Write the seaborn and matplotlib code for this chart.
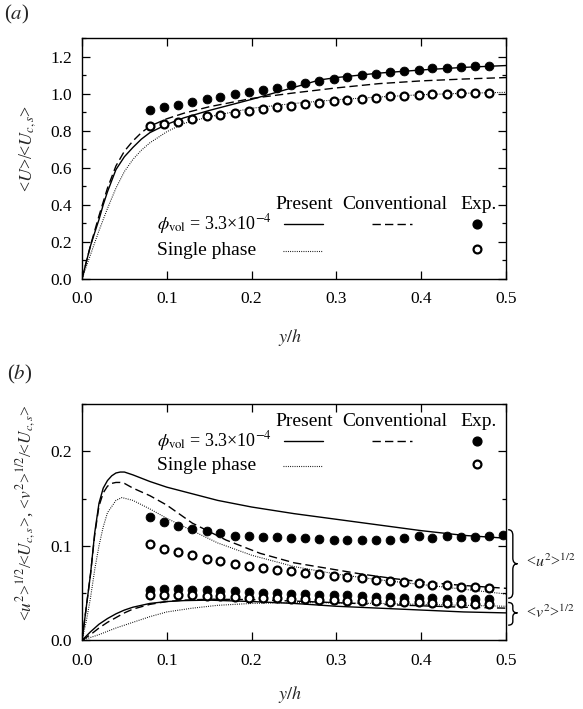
import matplotlib
matplotlib.use("Agg")
import matplotlib.pyplot as plt
from matplotlib.path import Path
from matplotlib.patches import PathPatch
from matplotlib.transforms import blended_transform_factory
from matplotlib.ticker import MultipleLocator
import pandas as pd
import seaborn as sns

# ---------------- (a) mean streamwise velocity ----------------
# measured points
y_exp = [0.080, 0.097, 0.113, 0.130, 0.147, 0.163, 0.180, 0.197, 0.213, 0.230,
         0.247, 0.263, 0.280, 0.297, 0.313, 0.330, 0.347, 0.363, 0.380, 0.397,
         0.413, 0.430, 0.447, 0.463, 0.480]
U_exp_particle = [0.911, 0.927, 0.941, 0.956, 0.972, 0.985, 0.999, 1.010, 1.021, 1.032,
                  1.046, 1.059, 1.068, 1.079, 1.091, 1.100, 1.109, 1.117, 1.124, 1.131,
                  1.137, 1.142, 1.146, 1.149, 1.153]
U_exp_single = [0.824, 0.837, 0.849, 0.864, 0.878, 0.887, 0.898, 0.909, 0.918, 0.927,
                0.936, 0.945, 0.952, 0.961, 0.969, 0.974, 0.979, 0.987, 0.990, 0.996,
                0.998, 1.001, 1.003, 1.005, 1.007]

# computed profiles
ya_present = [0, 0.005, 0.01, 0.015, 0.02, 0.025, 0.03, 0.04, 0.05, 0.06, 0.07, 0.08,
              0.1, 0.12, 0.15, 0.2, 0.25, 0.28, 0.3, 0.35, 0.4, 0.45, 0.5]
U_present = [0, 0.09, 0.178, 0.25, 0.32, 0.40, 0.47, 0.59, 0.66, 0.71, 0.755, 0.79,
             0.835, 0.87, 0.91, 0.97, 1.035, 1.075, 1.088, 1.112, 1.129, 1.143, 1.153]
ya_conv = [0, 0.005, 0.01, 0.02, 0.03, 0.04, 0.05, 0.06, 0.07, 0.08, 0.1, 0.12,
           0.15, 0.2, 0.25, 0.3, 0.35, 0.4, 0.45, 0.5]
U_conv = [0, 0.09, 0.18, 0.34, 0.49, 0.61, 0.69, 0.745, 0.79, 0.825, 0.865, 0.895,
          0.93, 0.975, 1.005, 1.032, 1.055, 1.07, 1.08, 1.088]
ya_single = [0, 0.005, 0.01, 0.02, 0.03, 0.04, 0.05, 0.06, 0.07, 0.08, 0.1, 0.12,
             0.15, 0.2, 0.25, 0.3, 0.35, 0.4, 0.45, 0.5]
U_single = [0, 0.065, 0.13, 0.26, 0.38, 0.49, 0.58, 0.645, 0.695, 0.735, 0.795, 0.84,
            0.876, 0.922, 0.948, 0.968, 0.983, 0.995, 1.003, 1.008]

# ---------------- (b) turbulence intensities ----------------
y_exp_u = [0.080, 0.097, 0.113, 0.130, 0.147, 0.163, 0.180, 0.197, 0.213, 0.230,
           0.247, 0.263, 0.280, 0.297, 0.313, 0.330, 0.347, 0.363, 0.380, 0.397,
           0.413, 0.430, 0.447, 0.463, 0.480, 0.497]
u_exp_particle = [0.1301, 0.1252, 0.1210, 0.1182, 0.1161, 0.1133, 0.1108, 0.1101, 0.1094,
                  0.1094, 0.1087, 0.1080, 0.1073, 0.1063, 0.1056, 0.1063, 0.1063, 0.1059,
                  0.1080, 0.1101, 0.1087, 0.1105, 0.1094, 0.1094, 0.1101, 0.1115]
u_exp_single = [0.1021, 0.0968, 0.0929, 0.0901, 0.0863, 0.0838, 0.0810, 0.0786, 0.0768,
                0.0747, 0.0729, 0.0715, 0.0701, 0.0684, 0.0670, 0.0659, 0.0642, 0.0631,
                0.0617, 0.0607, 0.0589, 0.0582, 0.0568, 0.0561, 0.0551]
v_exp_particle = [0.0536, 0.0547, 0.0540, 0.0536, 0.0530, 0.0523, 0.0519, 0.0512, 0.0505,
                  0.0505, 0.0495, 0.0491, 0.0484, 0.0477, 0.0477, 0.0466, 0.0459, 0.0459,
                  0.0452, 0.0452, 0.0449, 0.0442, 0.0442, 0.0442, 0.0438]
v_exp_single = [0.0477, 0.0484, 0.0477, 0.0477, 0.0470, 0.0466, 0.0459, 0.0452, 0.0452,
                0.0445, 0.0438, 0.0435, 0.0431, 0.0424, 0.0421, 0.0417, 0.0414, 0.0407,
                0.0403, 0.0400, 0.0396, 0.0396, 0.0393, 0.0389, 0.0386]

yb_u_present = [0, 0.005, 0.01, 0.015, 0.02, 0.025, 0.03, 0.035, 0.04, 0.045, 0.05, 0.06,
                0.08, 0.1, 0.13, 0.16, 0.2, 0.25, 0.3, 0.35, 0.4, 0.45, 0.5]
u_present = [0, 0.035, 0.07, 0.114, 0.145, 0.161, 0.169, 0.174, 0.177, 0.178, 0.178, 0.175,
             0.168, 0.162, 0.155, 0.148, 0.141, 0.134, 0.128, 0.122, 0.116, 0.111, 0.108]
yb_u_conv = [0, 0.005, 0.01, 0.015, 0.02, 0.025, 0.03, 0.035, 0.04, 0.045, 0.05, 0.06,
             0.08, 0.1, 0.13, 0.17, 0.21, 0.25, 0.29, 0.33, 0.37, 0.41, 0.45, 0.5]
u_conv = [0, 0.035, 0.07, 0.112, 0.142, 0.156, 0.163, 0.166, 0.167, 0.167, 0.166, 0.161,
          0.153, 0.143, 0.124, 0.106, 0.092, 0.082, 0.076, 0.070, 0.065, 0.061, 0.058, 0.055]
yb_u_single = [0, 0.005, 0.01, 0.015, 0.02, 0.025, 0.03, 0.04, 0.047, 0.06, 0.08, 0.1,
               0.13, 0.16, 0.2, 0.25, 0.3, 0.35, 0.4, 0.45, 0.5]
u_single = [0, 0.02, 0.045, 0.075, 0.10, 0.12, 0.135, 0.148, 0.151, 0.148, 0.139, 0.129,
            0.116, 0.103, 0.09, 0.078, 0.07, 0.064, 0.059, 0.054, 0.049]

yb_v_present = [0, 0.01, 0.02, 0.03, 0.04, 0.05, 0.06, 0.08, 0.1, 0.12, 0.15, 0.2, 0.25,
                0.3, 0.35, 0.4, 0.45, 0.5]
v_present = [0, 0.009, 0.017, 0.023, 0.028, 0.032, 0.035, 0.039, 0.041, 0.042, 0.0425,
             0.041, 0.039, 0.036, 0.034, 0.032, 0.030, 0.029]
yb_v_conv = [0, 0.01, 0.02, 0.03, 0.04, 0.05, 0.06, 0.08, 0.1, 0.12, 0.15, 0.2, 0.25,
             0.3, 0.35, 0.4, 0.45, 0.5]
v_conv = [0, 0.006, 0.013, 0.019, 0.024, 0.029, 0.033, 0.038, 0.041, 0.0425, 0.0435,
          0.043, 0.0415, 0.0398, 0.038, 0.0365, 0.035, 0.034]
yb_v_single = [0, 0.02, 0.04, 0.06, 0.08, 0.1, 0.13, 0.16, 0.2, 0.25, 0.3, 0.35, 0.4,
               0.45, 0.5]
v_single = [0, 0.006, 0.013, 0.019, 0.025, 0.030, 0.034, 0.037, 0.039, 0.040, 0.0395,
            0.039, 0.038, 0.037, 0.036]

x_ticks = [0.0, 0.1, 0.2, 0.3, 0.4, 0.5]
x_ticklabels = ["0.0", "0.1", "0.2", "0.3", "0.4", "0.5"]
ya_ticks = [0.0, 0.2, 0.4, 0.6, 0.8, 1.0, 1.2]
ya_ticklabels = ["0.0", "0.2", "0.4", "0.6", "0.8", "1.0", "1.2"]
yb_ticks = [0.0, 0.1, 0.2]
yb_ticklabels = ["0.0", "0.1", "0.2"]

# ---------------- styling ----------------
sns.set_theme(style="ticks")
plt.rcParams["font.family"] = ["Liberation Serif", "DejaVu Serif"]
plt.rcParams["mathtext.fontset"] = "stix"
plt.rcParams["axes.linewidth"] = 1.0

SOLID = "-"
DASHED = (0, (6, 3))
DOTTED = (0, (0.8, 1.2))
LW = 1.0
MS = 40

fig = plt.figure(figsize=(5.83, 7.09), dpi=100)
ax_a = fig.add_axes([0.1407, 0.6069, 0.7273, 0.339])
ax_b = fig.add_axes([0.1407, 0.0969, 0.7273, 0.3333])


def curve(ax, x, y, ls, lw=LW):
    df = pd.DataFrame({"x": x, "y": y})
    sns.lineplot(data=df, x="x", y="y", ax=ax, color="black", linestyle=ls,
                 linewidth=lw, sort=False, estimator=None, legend=False)


def points(ax, x, y, filled):
    df = pd.DataFrame({"x": x, "y": y})
    if filled:
        sns.scatterplot(data=df, x="x", y="y", ax=ax, color="black", s=MS,
                        edgecolor="black", linewidth=0.6, legend=False, zorder=4)
    else:
        sns.scatterplot(data=df, x="x", y="y", ax=ax, facecolor="white", s=MS * 0.8,
                        edgecolor="black", linewidth=1.6, legend=False, zorder=5)


def style_axes(ax, ymax, yticks, yticklabels, yminor):
    ax.set_xlim(0, 0.5)
    ax.set_ylim(0, ymax)
    ax.set_xticks(x_ticks)
    ax.set_xticklabels(x_ticklabels)
    ax.set_yticks(yticks)
    ax.set_yticklabels(yticklabels)
    ax.yaxis.set_minor_locator(MultipleLocator(yminor))
    for s in ax.spines.values():
        s.set_visible(True)
        s.set_linewidth(1.0)
        s.set_color("black")
    ax.tick_params(which="both", direction="in", top=True, right=True,
                   colors="black", width=0.9)
    ax.tick_params(which="major", length=6, pad=7, labelsize=12.5)
    ax.tick_params(which="minor", length=3)
    ax.tick_params(axis="x", pad=9)


def key(ax, y_head, y_row1, y_row2):
    tr = ax.transAxes
    kw = dict(transform=tr, va="center", color="black")
    ax.text(0.524, y_head, "Present", ha="center", fontsize=14, **kw)
    ax.text(0.738, y_head, "Conventional", ha="center", fontsize=14, **kw)
    ax.text(0.935, y_head, "Exp.", ha="center", fontsize=14, **kw)
    ax.text(0.177, y_row1, r"$\phi_{\mathrm{vol}}$ = 3.3×10$^{-4}$", ha="left",
            fontsize=13, **kw)
    ax.text(0.177, y_row2, "Single phase", ha="left", fontsize=14, **kw)
    ax.plot([0.476, 0.568], [y_row1, y_row1], transform=tr, color="black", lw=LW, ls=SOLID)
    ax.plot([0.684, 0.778], [y_row1, y_row1], transform=tr, color="black", lw=LW, ls=DASHED)
    ax.plot([0.474, 0.566], [y_row2, y_row2], transform=tr, color="black", lw=0.8, ls=DOTTED)
    ax.scatter([0.932], [y_row1], transform=tr, s=MS, color="black", clip_on=False)
    ax.scatter([0.932], [y_row2 + 0.008], transform=tr, s=MS * 0.8, facecolor="white",
               edgecolor="black", linewidth=1.6, clip_on=False)


def brace(ax, x0, dx, y_lo, y_hi, y_tip, r):
    tr = blended_transform_factory(ax.transAxes, ax.transData)
    xm = x0 + dx / 2
    verts = [(x0, y_hi), (xm, y_hi), (xm, y_hi - r),
             (xm, y_tip + r),
             (xm, y_tip), (x0 + dx, y_tip),
             (xm, y_tip), (xm, y_tip - r),
             (xm, y_lo + r),
             (xm, y_lo), (x0, y_lo)]
    codes = [Path.MOVETO, Path.CURVE3, Path.CURVE3,
             Path.LINETO,
             Path.CURVE3, Path.CURVE3,
             Path.CURVE3, Path.CURVE3,
             Path.LINETO,
             Path.CURVE3, Path.CURVE3]
    ax.add_patch(PathPatch(Path(verts, codes), transform=tr, fill=False,
                           edgecolor="black", lw=1.0, clip_on=False))


# ---------------- panel (a) ----------------
curve(ax_a, ya_single, U_single, DOTTED, lw=0.8)
curve(ax_a, ya_conv, U_conv, DASHED)
curve(ax_a, ya_present, U_present, SOLID)
points(ax_a, y_exp, U_exp_particle, True)
points(ax_a, y_exp, U_exp_single, False)
style_axes(ax_a, 1.3, ya_ticks, ya_ticklabels, 0.1)
ax_a.set_xlabel(r"$y/h$", fontsize=13)
ax_a.xaxis.set_label_coords(0.49, -0.2)
ax_a.set_ylabel(r"<$U$>/<$U_{c,s}$>", fontsize=13)
ax_a.yaxis.set_label_coords(-0.103, 0.544)
key(ax_a, 0.307, 0.227, 0.117)

# ---------------- panel (b) ----------------
curve(ax_b, yb_u_single, u_single, DOTTED, lw=0.8)
curve(ax_b, yb_v_single, v_single, DOTTED, lw=0.8)
curve(ax_b, yb_u_conv, u_conv, DASHED)
curve(ax_b, yb_v_conv, v_conv, DASHED)
curve(ax_b, yb_u_present, u_present, SOLID)
curve(ax_b, yb_v_present, v_present, SOLID)
points(ax_b, y_exp_u, u_exp_particle, True)
points(ax_b, y_exp, u_exp_single, False)
points(ax_b, y_exp, v_exp_particle, True)
points(ax_b, y_exp, v_exp_single, False)
style_axes(ax_b, 0.25, yb_ticks, yb_ticklabels, 0.05)
ax_b.set_xlabel(r"$y/h$", fontsize=13)
ax_b.xaxis.set_label_coords(0.49, -0.185)
ax_b.set_ylabel(r"<$u^2$>$^{1/2}$/<$U_{c,s}$>, <$v^2$>$^{1/2}$/<$U_{c,s}$>", fontsize=12.5)
ax_b.yaxis.set_label_coords(-0.103, 0.539)
key(ax_b, 0.924, 0.844, 0.738)

brace(ax_b, 1.005, 0.022, 0.0445, 0.117, 0.081, 0.006)
brace(ax_b, 1.005, 0.022, 0.016, 0.040, 0.029, 0.004)
tr_b = blended_transform_factory(ax_b.transAxes, ax_b.transData)
ax_b.text(1.048, 0.082, r"<$u^2$>$^{1/2}$", transform=tr_b, fontsize=11.5,
          ha="left", va="center")
ax_b.text(1.048, 0.029, r"<$v^2$>$^{1/2}$", transform=tr_b, fontsize=11.5,
          ha="left", va="center")

fig.text(0.029, 0.979, r"($a$)", fontsize=15, ha="center", va="center")
fig.text(0.033, 0.472, r"($b$)", fontsize=15, ha="center", va="center")

fig.savefig("out.png", dpi=100)
